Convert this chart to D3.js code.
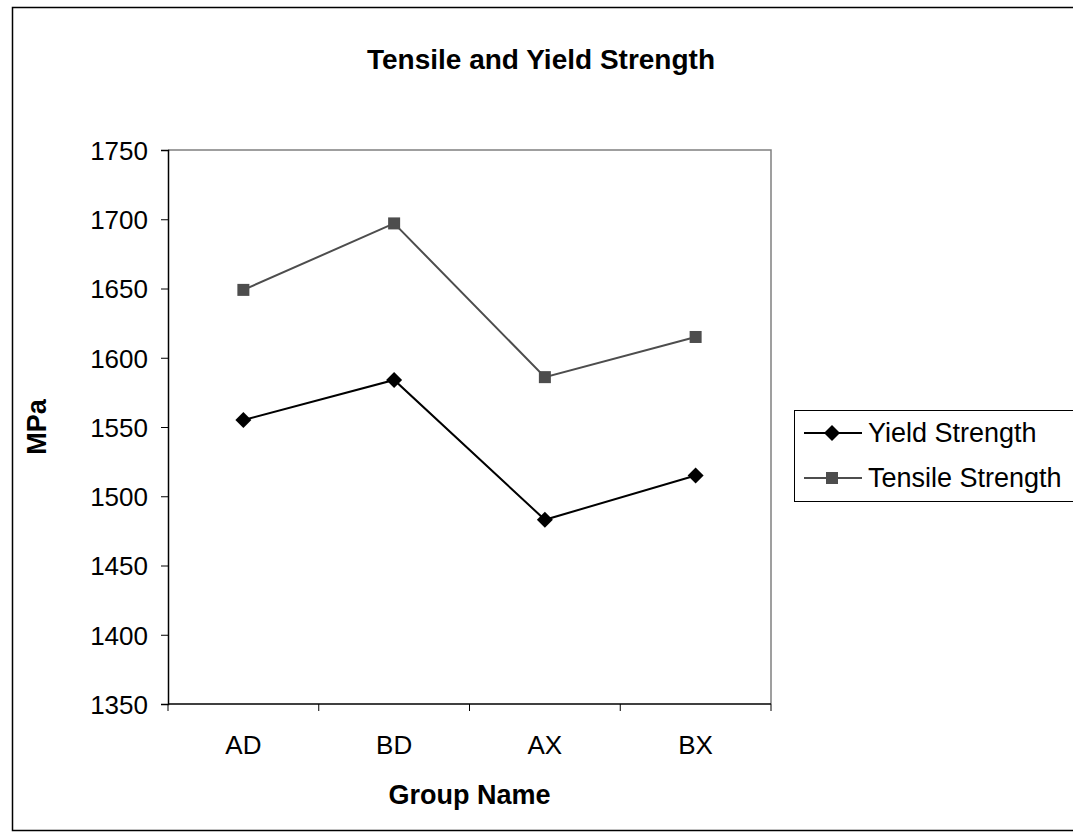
<!DOCTYPE html>
<html>
<head>
<meta charset="utf-8">
<script src="https://cdn.jsdelivr.net/npm/d3@7"></script>
<style>
  body { margin: 0; background: #fff; }
  svg { display: block; font-family: "Liberation Sans", Arial, sans-serif; }
</style>
</head>
<body>
<svg id="chart" width="1073" height="839"></svg>
<script>
const groups = ["AD", "BD", "AX", "BX"];
const yieldStrength = [1555, 1584, 1483, 1515];
const tensileStrength = [1649, 1697, 1586, 1615];
const yTicks = [1350, 1400, 1450, 1500, 1550, 1600, 1650, 1700, 1750];

const svg = d3.select("#chart");
const FONT = "Liberation Sans, Arial, sans-serif";

// outer chart border (right side runs off the page)
svg.append("rect")
    .attr("x", 12.5).attr("y", 7.5)
    .attr("width", 1100).attr("height", 823)
    .attr("fill", "none").attr("stroke", "#000").attr("stroke-width", 1.5);

const plot = { left: 168, right: 771, top: 150, bottom: 704 };

const x = d3.scaleBand().domain(groups).range([plot.left, plot.right]);
const y = d3.scaleLinear().domain([1350, 1750]).range([plot.bottom, plot.top]);

// plot area: grey top/right frame
svg.append("path")
    .attr("d", `M${plot.left},${plot.top}H${plot.right}V${plot.bottom}`)
    .attr("fill", "none").attr("stroke", "#808080").attr("stroke-width", 1.5);

const yAxis = svg.append("g")
    .attr("transform", `translate(${plot.left},0)`)
    .call(d3.axisLeft(y).tickValues(yTicks).tickSize(7).tickPadding(13).tickFormat(d3.format("d")));
yAxis.select(".domain").attr("stroke", "#000").attr("stroke-width", 1.5);
yAxis.selectAll(".tick line").attr("stroke", "#000");
yAxis.selectAll("text").attr("font-size", 26).attr("fill", "#000")
    .attr("font-family", FONT).attr("dy", "0.36em");

const xAxis = svg.append("g")
    .attr("transform", `translate(0,${plot.bottom})`)
    .call(d3.axisBottom(x).tickSize(0).tickPadding(32));
xAxis.select(".domain").remove();
xAxis.selectAll("text").attr("font-size", 26).attr("fill", "#000")
    .attr("font-family", FONT);

// category boundary ticks
const bounds = groups.map(g => x(g)).concat([plot.right]);
svg.append("g").selectAll("line")
    .data(bounds).join("line")
    .attr("x1", d => d).attr("x2", d => d)
    .attr("y1", plot.bottom).attr("y2", plot.bottom + 7)
    .attr("stroke", "#000");
svg.append("line")
    .attr("x1", plot.left).attr("x2", plot.right)
    .attr("y1", plot.bottom).attr("y2", plot.bottom)
    .attr("stroke", "#000").attr("stroke-width", 1.5);

const cx = g => x(g) + x.bandwidth() / 2;

const series = [
    { name: "Yield Strength", values: yieldStrength, color: "#000", marker: "diamond" },
    { name: "Tensile Strength", values: tensileStrength, color: "#4d4d4d", marker: "square" }
];

const line = d3.line().x((d, i) => cx(groups[i])).y(d => y(d));

function drawMarker(sel, s) {
    if (s.marker === "diamond") {
        sel.append("path").attr("d", "M0,-8L8,0L0,8L-8,0Z").attr("fill", s.color);
    } else {
        sel.append("rect").attr("x", -6).attr("y", -6).attr("width", 12).attr("height", 12)
            .attr("fill", s.color);
    }
}

series.forEach(s => {
    svg.append("path")
        .datum(s.values)
        .attr("d", line)
        .attr("fill", "none")
        .attr("stroke", s.color)
        .attr("stroke-width", 2);
    s.values.forEach((v, i) => {
        const m = svg.append("g").attr("transform", `translate(${cx(groups[i])},${y(v)})`);
        drawMarker(m, s);
    });
});

// titles
svg.append("text")
    .attr("x", 541).attr("y", 69)
    .attr("text-anchor", "middle")
    .attr("font-size", 28).attr("font-weight", "bold")
    .text("Tensile and Yield Strength");

svg.append("text")
    .attr("x", (plot.left + plot.right) / 2).attr("y", 804)
    .attr("text-anchor", "middle")
    .attr("font-size", 27).attr("font-weight", "bold")
    .text("Group Name");

svg.append("text")
    .attr("transform", `translate(46,${(plot.top + plot.bottom) / 2}) rotate(-90)`)
    .attr("text-anchor", "middle")
    .attr("font-size", 27).attr("font-weight", "bold")
    .text("MPa");

// legend
const legend = svg.append("g").attr("transform", "translate(794,410)");
legend.append("rect")
    .attr("x", 0.5).attr("y", 0.5).attr("width", 400).attr("height", 91)
    .attr("fill", "#fff").attr("stroke", "#000");
series.forEach((s, i) => {
    const ly = 23 + i * 45;
    legend.append("line")
        .attr("x1", 10).attr("x2", 68).attr("y1", ly).attr("y2", ly)
        .attr("stroke", s.color).attr("stroke-width", 2);
    const m = legend.append("g").attr("transform", `translate(38,${ly})`);
    drawMarker(m, s);
    legend.append("text")
        .attr("x", 74).attr("y", ly + 9)
        .attr("font-size", 27)
        .text(s.name);
});
</script>
</body>
</html>
